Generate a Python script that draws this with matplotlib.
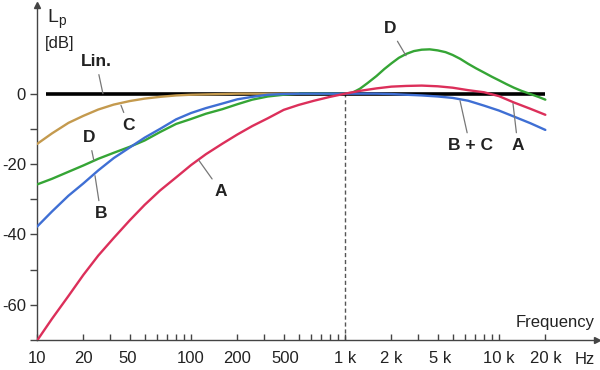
import numpy as np
import matplotlib.pyplot as plt
from matplotlib.ticker import FixedLocator, NullFormatter
from matplotlib.transforms import ScaledTranslation

plt.rcParams['font.family'] = ['Liberation Sans', 'DejaVu Sans']
plt.rcParams['mathtext.fontset'] = 'custom'
plt.rcParams['mathtext.rm'] = 'Liberation Sans'

# third-octave band centres, Hz
freq = [10, 12.5, 16, 20, 25, 31.5, 40, 50, 63, 80, 100, 125, 160, 200, 250,
        315, 400, 500, 630, 800, 1000, 1250, 1600, 2000, 2500, 3150, 4000,
        5000, 6300, 8000, 10000, 12500, 16000, 20000]

# weighting curves, dB
a_weight = [-70.2, -64.0, -57.5, -51.5, -46.0, -41.0, -36.0, -31.6, -27.5,
            -23.8, -20.3, -17.2, -14.2, -11.6, -9.2, -7.0, -4.6, -3.2, -2.0,
            -0.9, 0.0, 0.8, 1.5, 2.0, 2.2, 2.3, 2.1, 1.7, 1.0, 0.4, -0.7,
            -2.5, -4.3, -6.0]
b_weight = [-37.8, -33.5, -29.0, -25.5, -21.8, -18.3, -15.3, -12.5, -10.0,
            -7.3, -5.5, -4.1, -2.8, -1.6, -0.9, -0.3, -0.1, 0.0, 0.0, 0.0,
            0.0, 0.0, 0.0, -0.1, -0.3, -0.5, -0.8, -1.2, -2.0, -3.4, -4.8,
            -6.5, -8.4, -10.3]

# D read a bit finer around its peak
d_freq = [10, 12.5, 16, 20, 25, 31.5, 40, 50, 63, 80, 100, 125, 160, 200,
          250, 315, 400, 500, 630, 800, 1000, 1120, 1250, 1400, 1600, 1800,
          2000, 2240, 2500, 2800, 3150, 3550, 4000, 4500, 5000, 5600, 6300,
          7100, 8000, 9000, 10000, 11200, 12500, 14000, 16000, 18000, 20000]
d_weight = [-25.8, -24.2, -22.2, -20.4, -18.5, -16.8, -15.1, -13.3, -10.9,
            -8.6, -7.2, -5.7, -4.4, -3.0, -1.7, -0.8, -0.3, 0.0, 0.0, 0.0,
            0.0, 0.3, 1.4, 3.0, 5.0, 7.0, 8.6, 10.2, 11.3, 12.1, 12.5, 12.6,
            12.3, 11.8, 11.0, 9.9, 8.5, 7.2, 6.0, 4.8, 3.8, 2.7, 1.7, 0.8,
            -0.1, -0.9, -1.7]

# C only drawn on the low side, above that it runs with B
c_freq = freq[:18]
c_weight = [-14.3, -11.3, -8.3, -6.3, -4.5, -3.1, -2.1, -1.4, -0.9, -0.5,
            -0.3, -0.2, -0.1, 0.0, 0.0, 0.0, 0.0, 0.0]

lin_freq = [11.5, 20000]
lin_level = [0, 0]

major_ticks = [10, 20, 50, 100, 200, 500, 1000, 2000, 5000, 10000, 20000]
major_labels = ['10', '20', '50', '100', '200', '500', '1 k', '2 k', '5 k',
                '10 k', '20 k']
y_ticks = [-70, -60, -50, -40, -30, -20, -10, 0]
y_labels = ['', '-60', '', '-40', '', '-20', '', '0']

fig = plt.figure(figsize=(6, 3.7), dpi=100)
ax = fig.add_axes([37 / 600, 30 / 370, 560 / 600, 335 / 370])

style = dict(lw=1.7, solid_joinstyle='round', solid_capstyle='round')
ax.plot(lin_freq, lin_level, color='black', lw=2.6, solid_capstyle='butt', zorder=2)
ax.plot(c_freq, c_weight, color='#c49a4e', zorder=3, **style)
ax.plot(d_freq, d_weight, color='#35a535', zorder=4, **style)
ax.plot(freq, b_weight, color='#3f6fd4', zorder=5, **style)
ax.plot(freq, a_weight, color='#dc2f5a', zorder=6, **style)

ax.plot([1000, 1000], [-70, 0], color='#555555', lw=1, ls=(0, (3, 2)), zorder=1)

ax.set_xscale('log')
ax.set_xlim(10, 43300)
ax.set_ylim(-70, 25.2)

for side in ['top', 'right']:
    ax.spines[side].set_visible(False)
for side in ['left', 'bottom']:
    ax.spines[side].set_color('#444444')
    ax.spines[side].set_linewidth(1)

ax.plot(1, 0, '>', color='#444444', ms=5, transform=ax.transAxes, clip_on=False)
ax.plot(0, 1, '^', color='#444444', ms=5, transform=ax.transAxes, clip_on=False)

minor = [m * d for d in [10, 100, 1000, 10000] for m in range(2, 10)
         if m * d not in major_ticks and m * d <= 20000]
ax.xaxis.set_major_locator(FixedLocator(major_ticks))
ax.xaxis.set_minor_locator(FixedLocator(minor))
ax.xaxis.set_minor_formatter(NullFormatter())
ax.set_xticklabels(major_labels)
ax.tick_params(axis='x', which='both', direction='in', length=4, width=1,
               color='#444444', pad=8, labelsize=12, labelcolor='#222222')

# the original sets 50, 500 and 5 k a little left of their ticks
shifts = {'50': -17, '500': -13, '5 k': -13}
for lab in ax.get_xticklabels():
    dx = shifts.get(lab.get_text(), 0)
    if dx:
        lab.set_transform(lab.get_transform() +
                          ScaledTranslation(dx / 100, 0, fig.dpi_scale_trans))

ax.set_yticks(y_ticks)
ax.set_yticklabels(y_labels)
ax.tick_params(axis='y', direction='out', length=5, width=1, color='#444444',
               pad=3, labelsize=12, labelcolor='#222222')

ax.text(11.6, 20.2, r'L$_\mathrm{p}$', fontsize=14, color='#222222',
        ha='left', va='baseline')
ax.text(11.3, 13.1, '[dB]', fontsize=12, color='#222222', ha='left', va='baseline')
ax.text(42000, -65, 'Frequency', fontsize=12, color='#222222', ha='right', va='center')
ax.text(36000, -75.6, 'Hz', fontsize=12, color='#222222', ha='center', va='center',
        clip_on=False)

# curve labels with leader lines
labels = [
    ('Lin.', 26.8, 0.0, 24.2, 9.1),
    ('C', 35.1, -3.3, 39.4, -9.0),
    ('D', 23.4, -19.0, 21.8, -12.5),
    ('B', 23.8, -23.3, 26.0, -34.1),
    ('A', 112.7, -19.0, 156.7, -27.8),
    ('D', 2489, 10.8, 1959, 18.5),
    ('B + C', 5585, -2.0, 6486, -14.8),
    ('A', 12330, -2.8, 13270, -14.8),
]
for name, cx, cy, tx, ty in labels:
    ax.annotate(name, xy=(cx, cy), xytext=(tx, ty), fontsize=12.5,
                fontweight='bold', color='#222222', ha='center', va='center',
                arrowprops=dict(arrowstyle='-', color='#777777', lw=0.9,
                                shrinkA=2, shrinkB=0),
                zorder=7)

fig.savefig('out.png', dpi=100)
